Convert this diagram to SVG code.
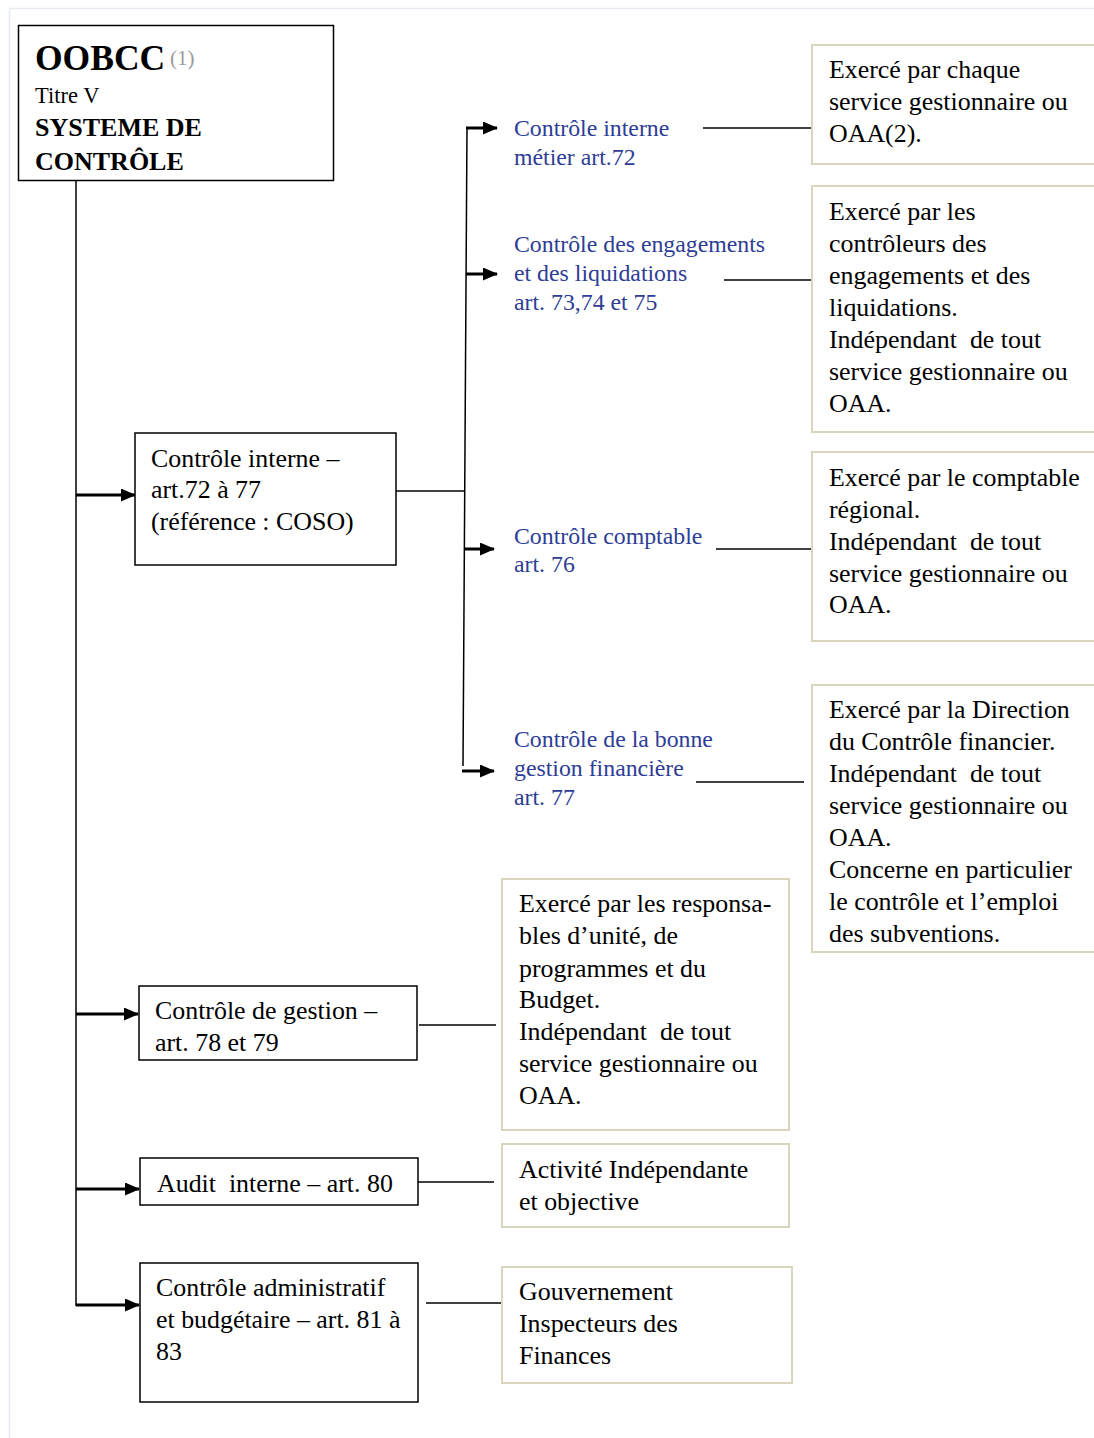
<svg xmlns="http://www.w3.org/2000/svg" width="1094" height="1438" viewBox="0 0 1094 1438">
<style>
  .t { font-family: "Liberation Serif", "Times New Roman", serif; font-size: 25.9px; fill: #000; }
  .b { font-family: "Liberation Serif", "Times New Roman", serif; font-size: 23.8px; fill: #2E3D96; }
  .box { fill: #fff; stroke: #000; stroke-width: 1.5; }
  .note { fill: #fff; stroke: #DAD6BE; stroke-width: 2; }
  .ln { stroke: #000; stroke-width: 1.5; fill: none; }
  .ar { stroke: #000; stroke-width: 3; fill: none; marker-end: url(#ah); }
</style>
<defs>
  <marker id="ah" markerUnits="userSpaceOnUse" markerWidth="15" markerHeight="13" refX="14" refY="6.5" orient="auto">
    <path d="M0,0 L15,6.5 L0,13 Z" fill="#000"/>
  </marker>
</defs>
<rect x="0" y="0" width="1094" height="1438" fill="#fff"/>
<path d="M9.5,1438 V8.5 H1094" fill="none" stroke="#E6EAF2" stroke-width="1.5"/>

<g id="connectors">
  <line class="ln" x1="76" y1="180" x2="76" y2="1306"/>
  <line class="ar" x1="76" y1="495" x2="135" y2="495"/>
  <line class="ar" x1="76" y1="1014" x2="138" y2="1014"/>
  <line class="ar" x1="76" y1="1189" x2="139" y2="1189"/>
  <line class="ar" x1="76" y1="1305" x2="139" y2="1305"/>
  <line class="ln" x1="396" y1="491" x2="465" y2="491"/>
  <line class="ln" x1="467" y1="127" x2="463" y2="766"/>
  <line class="ar" x1="466" y1="128" x2="497" y2="128"/>
  <line class="ar" x1="466" y1="274" x2="497" y2="274"/>
  <line class="ar" x1="464" y1="549" x2="494" y2="549"/>
  <line class="ar" x1="462" y1="771" x2="494" y2="771"/>
  <line class="ln" x1="703" y1="128" x2="813" y2="128"/>
  <line class="ln" x1="724" y1="280" x2="813" y2="280"/>
  <line class="ln" x1="716" y1="549" x2="812" y2="549"/>
  <line class="ln" x1="696" y1="782" x2="804" y2="782"/>
  <line class="ln" x1="419" y1="1025" x2="496" y2="1025"/>
  <line class="ln" x1="418" y1="1182" x2="494" y2="1182"/>
  <line class="ln" x1="426" y1="1303" x2="501" y2="1303"/>
</g>

<g id="oobcc">
  <rect class="box" x="18.5" y="25.5" width="315" height="155"/>
  <text x="35" y="70" style="font-family:'Liberation Serif',serif;font-size:35.5px;font-weight:bold">OOBCC</text>
  <text x="170" y="65" style="font-family:'Liberation Serif',serif;font-size:21px;fill:#9A9A9A">(1)</text>
  <text x="35" y="103" style="font-family:'Liberation Serif',serif;font-size:22.5px">Titre V</text>
  <text x="35" y="136" style="font-family:'Liberation Serif',serif;font-size:26px;font-weight:bold">SYSTEME DE</text>
  <text x="35" y="170" style="font-family:'Liberation Serif',serif;font-size:26px;font-weight:bold">CONTRÔLE</text>
</g>

<g id="controle-interne">
  <rect class="box" x="135" y="433" width="261" height="132"/>
  <text class="t" x="151" y="467">Contrôle interne –</text>
  <text class="t" x="151" y="498">art.72 à 77</text>
  <text class="t" x="151" y="530">(référence : COSO)</text>
</g>

<g id="ci-metier">
  <text class="b" x="514" y="136">Contrôle interne</text>
  <text class="b" x="514" y="165">métier art.72</text>
</g>
<g id="ci-engagements">
  <text class="b" x="514" y="252">Contrôle des engagements</text>
  <text class="b" x="514" y="281">et des liquidations</text>
  <text class="b" x="514" y="310">art. 73,74 et 75</text>
</g>
<g id="ci-comptable">
  <text class="b" x="514" y="544">Contrôle comptable</text>
  <text class="b" x="514" y="572">art. 76</text>
</g>
<g id="ci-bonne-gestion">
  <text class="b" x="514" y="747">Contrôle de la bonne</text>
  <text class="b" x="514" y="776">gestion financière</text>
  <text class="b" x="514" y="805">art. 77</text>
</g>

<g id="note-metier">
  <rect class="note" x="812" y="45" width="290" height="119"/>
  <text class="t" x="829" y="78">Exercé par chaque</text>
  <text class="t" x="829" y="110">service gestionnaire ou</text>
  <text class="t" x="829" y="142">OAA(2).</text>
</g>
<g id="note-engagements">
  <rect class="note" x="812" y="186" width="290" height="246"/>
  <text class="t" x="829" y="220">Exercé par les</text>
  <text class="t" x="829" y="252">contrôleurs des</text>
  <text class="t" x="829" y="284">engagements et des</text>
  <text class="t" x="829" y="316">liquidations.</text>
  <text class="t" x="829" y="348" xml:space="preserve">Indépendant  de tout</text>
  <text class="t" x="829" y="380">service gestionnaire ou</text>
  <text class="t" x="829" y="412">OAA.</text>
</g>
<g id="note-comptable">
  <rect class="note" x="812" y="452" width="290" height="189"/>
  <text class="t" x="829" y="486">Exercé par le comptable</text>
  <text class="t" x="829" y="518">régional.</text>
  <text class="t" x="829" y="550" xml:space="preserve">Indépendant  de tout</text>
  <text class="t" x="829" y="582">service gestionnaire ou</text>
  <text class="t" x="829" y="613">OAA.</text>
</g>
<g id="note-bonne-gestion">
  <rect class="note" x="812" y="685" width="290" height="267"/>
  <text class="t" x="829" y="718">Exercé par la Direction</text>
  <text class="t" x="829" y="750">du Contrôle financier.</text>
  <text class="t" x="829" y="782" xml:space="preserve">Indépendant  de tout</text>
  <text class="t" x="829" y="814">service gestionnaire ou</text>
  <text class="t" x="829" y="846">OAA.</text>
  <text class="t" x="829" y="878">Concerne en particulier</text>
  <text class="t" x="829" y="910">le contrôle et l’emploi</text>
  <text class="t" x="829" y="942">des subventions.</text>
</g>

<g id="controle-gestion">
  <rect class="box" x="139" y="986" width="278" height="74"/>
  <text class="t" x="155" y="1019">Contrôle de gestion –</text>
  <text class="t" x="155" y="1051">art. 78 et 79</text>
</g>
<g id="note-gestion">
  <rect class="note" x="502" y="879" width="287" height="251"/>
  <text class="t" x="519" y="912">Exercé par les responsa-</text>
  <text class="t" x="519" y="944">bles d’unité, de</text>
  <text class="t" x="519" y="977">programmes et du</text>
  <text class="t" x="519" y="1008">Budget.</text>
  <text class="t" x="519" y="1040" xml:space="preserve">Indépendant  de tout</text>
  <text class="t" x="519" y="1072">service gestionnaire ou</text>
  <text class="t" x="519" y="1104">OAA.</text>
</g>

<g id="audit-interne">
  <rect class="box" x="140" y="1158" width="278" height="47"/>
  <text class="t" x="157" y="1192" xml:space="preserve">Audit  interne – art. 80</text>
</g>
<g id="note-audit">
  <rect class="note" x="502" y="1144" width="287" height="83"/>
  <text class="t" x="519" y="1178">Activité Indépendante</text>
  <text class="t" x="519" y="1210">et objective</text>
</g>

<g id="controle-administratif">
  <rect class="box" x="140" y="1263" width="278" height="139"/>
  <text class="t" x="156" y="1296">Contrôle administratif</text>
  <text class="t" x="156" y="1328">et budgétaire – art. 81 à</text>
  <text class="t" x="156" y="1360">83</text>
</g>
<g id="note-administratif">
  <rect class="note" x="502" y="1267" width="290" height="116"/>
  <text class="t" x="519" y="1300">Gouvernement</text>
  <text class="t" x="519" y="1332">Inspecteurs des</text>
  <text class="t" x="519" y="1364">Finances</text>
</g>
</svg>
